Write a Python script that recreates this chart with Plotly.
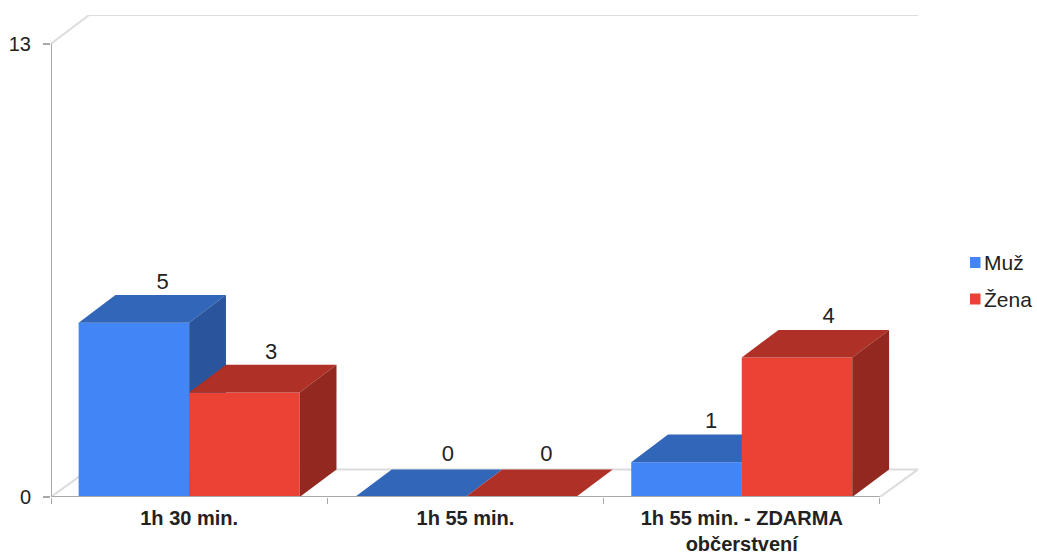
import plotly.graph_objects as go

categories = ["1h 30 min.", "1h 55 min.", "1h 55 min. - ZDARMA<br>občerstvení"]
muz_values = [5, 0, 1]
zena_values = [3, 0, 4]
y_ticks = [0, 13]

W, H = 1037, 554
LEFT, RIGHT, TOP, BOTTOM = 51, 918, 15, 497
CAT_PX = 276.3
UNIT_PX = 34.87
DX = (RIGHT - LEFT) / CAT_PX - 3          # wall depth in category units
DY = (BOTTOM - TOP) / UNIT_PX - 13        # wall depth in value units
BAR_DX = 36.8 / CAT_PX                    # bar depth
BAR_DY = 27.6 / UNIT_PX
BAR_W = 0.4
FONT = "Liberation Sans, Arial, sans-serif"
GRID = "#dcdcdc"
AXIS = "#a8a8a8"
TXT = "#222222"

# small nudges of the value labels, in pixels, per series and category
label_nudge_px = {"Muž": [0, 9, -4], "Žena": [-2, -3, 3]}
label_lift_px = {"Muž": [1, 3, 1], "Žena": [0, 3, 1]}

series = [
    ("Muž", muz_values, -1, "#4285F4", "#3266B9", "#2A549B", "x", "y"),
    ("Žena", zena_values, 0, "#EA4335", "#AE3026", "#932820", "x2", "y2"),
]

fig = go.Figure()
for name, vals, shift, front, top, side, xa, ya in series:
    lefts = [i + 0.5 + shift * BAR_W for i in range(len(vals))]
    fig.add_trace(go.Bar(
        name=name, x=[l + BAR_W / 2 for l in lefts], y=vals, width=BAR_W,
        marker=dict(color=front, line=dict(width=0)), xaxis=xa, yaxis=ya,
        hoverinfo="x+y", showlegend=False))
    for l, v in zip(lefts, vals):
        r = l + BAR_W
        fig.add_trace(go.Scatter(
            x=[l, r, r + BAR_DX, l + BAR_DX, l], y=[v, v, v + BAR_DY, v + BAR_DY, v],
            mode="lines", fill="toself", fillcolor=top, line=dict(width=0),
            xaxis=xa, yaxis=ya, hoverinfo="skip", showlegend=False))
        if v > 0:
            fig.add_trace(go.Scatter(
                x=[r, r + BAR_DX, r + BAR_DX, r, r], y=[0, BAR_DY, v + BAR_DY, v, 0],
                mode="lines", fill="toself", fillcolor=side, line=dict(width=0),
                xaxis=xa, yaxis=ya, hoverinfo="skip", showlegend=False))

# value labels, above the back edge of each bar top
for name, vals, shift, *_ in series:
    nudges, lifts = label_nudge_px[name], label_lift_px[name]
    fig.add_trace(go.Scatter(
        x=[i + 0.5 + (shift + 0.5) * BAR_W + BAR_DX * 0.78 + nudges[i] / CAT_PX for i in range(len(vals))],
        y=[v + BAR_DY + lifts[i] / UNIT_PX for i, v in enumerate(vals)],
        mode="text", text=[str(v) for v in vals],
        textposition="top center", textfont=dict(family=FONT, size=22, color=TXT),
        xaxis="x2", yaxis="y2", hoverinfo="skip", showlegend=False, cliponaxis=False))

def wall(x0, y0, x1, y1, color=GRID, width=2, layer="below"):
    return dict(type="line", xref="x", yref="y", x0=x0, y0=y0, x1=x1, y1=y1,
                layer=layer, line=dict(color=color, width=width))

shapes = [
    wall(0, 13, DX, 13 + DY),
    wall(DX, 13 + DY, 3 + DX, 13 + DY),
    wall(0, 0, DX, BAR_DY),
    wall(DX, BAR_DY, 3 + DX, BAR_DY),
    wall(3, 0, 3 + DX, BAR_DY),
    wall(0, 0, 0, 13, AXIS, 2),
    wall(0, 0, 3, 0, AXIS, 2, "above"),
]

# legend block
legend_items = [(name, front, ypx) for (name, _, _, front, *_), ypx in zip(series, [262.5, 299])]
annotations = []
for name, color, ypx in legend_items:
    shapes.append(dict(type="rect", xref="paper", yref="paper",
                       x0=(970 - LEFT) / (RIGHT - LEFT), x1=(980.5 - LEFT) / (RIGHT - LEFT),
                       y0=(BOTTOM - ypx - 5.5) / (BOTTOM - TOP), y1=(BOTTOM - ypx + 5.5) / (BOTTOM - TOP),
                       fillcolor=color, line=dict(width=0)))
    annotations.append(dict(xref="paper", yref="paper", showarrow=False, xanchor="left", yanchor="middle",
                            x=(982 - LEFT) / (RIGHT - LEFT), y=(BOTTOM - ypx) / (BOTTOM - TOP),
                            text=name, font=dict(family=FONT, size=21, color=TXT)))

x_common = dict(range=[0, 3 + DX], fixedrange=True, showgrid=False, zeroline=False)
y_common = dict(range=[0, 13 + DY], fixedrange=True, showgrid=False, zeroline=False)

fig.update_layout(
    width=W, height=H, autosize=False, showlegend=False, barmode="overlay",
    paper_bgcolor="white", plot_bgcolor="white",
    margin=dict(l=LEFT, r=W - RIGHT, t=TOP, b=H - BOTTOM, pad=0, autoexpand=False),
    shapes=shapes, annotations=annotations,
    xaxis=dict(**x_common, tickmode="array", tickvals=[i + 0.5 for i in range(len(categories))],
               ticktext=[f"<b>{c}</b>" for c in categories], ticks="", ticklen=0,
               tickfont=dict(family=FONT, size=20, color=TXT),
               ticklabelstandoff=7,
               minor=dict(tickmode="array", tickvals=[0, 1, 2, 3], ticks="outside",
                          ticklen=6, tickwidth=1, tickcolor=AXIS)),
    yaxis=dict(**y_common, tickmode="array", tickvals=y_ticks, ticks="outside", ticklen=7,
               tickwidth=2, tickcolor=AXIS, ticklabelstandoff=8,
               tickfont=dict(family=FONT, size=20, color=TXT)),
    xaxis2=dict(**x_common, overlaying="x", visible=False, anchor="y2"),
    yaxis2=dict(**y_common, overlaying="y", visible=False, anchor="x2"),
)

fig.write_html("out.html", config=dict(displayModeBar=False),
               post_script="document.body.style.margin='0';document.body.style.overflow='hidden';")
